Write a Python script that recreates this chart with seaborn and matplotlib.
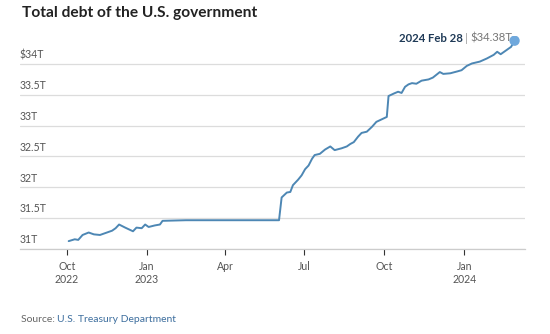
import numpy as np
import pandas as pd
import matplotlib
matplotlib.use("Agg")
import matplotlib.pyplot as plt
import matplotlib.transforms as mtransforms
import seaborn as sns

# ---------------- data ----------------
dates = [
    "2022-10-03", "2022-10-10", "2022-10-14", "2022-10-19", "2022-10-26",
    "2022-11-01", "2022-11-08", "2022-11-16", "2022-11-22", "2022-11-26",
    "2022-11-30", "2022-12-07", "2022-12-13", "2022-12-16", "2022-12-20",
    "2022-12-26", "2022-12-30", "2023-01-03", "2023-01-10", "2023-01-16",
    "2023-01-19", "2023-02-15", "2023-03-15", "2023-04-15", "2023-05-15",
    "2023-06-02", "2023-06-05", "2023-06-11", "2023-06-15", "2023-06-18",
    "2023-06-24", "2023-06-28", "2023-07-02", "2023-07-06", "2023-07-10",
    "2023-07-13", "2023-07-19", "2023-07-25", "2023-07-31", "2023-08-05",
    "2023-08-13", "2023-08-19", "2023-08-23", "2023-08-27", "2023-09-01",
    "2023-09-05", "2023-09-11", "2023-09-17", "2023-09-22", "2023-09-28",
    "2023-10-04", "2023-10-06", "2023-10-12", "2023-10-17", "2023-10-21",
    "2023-10-25", "2023-10-29", "2023-11-02", "2023-11-07", "2023-11-13",
    "2023-11-21", "2023-11-26", "2023-12-04", "2023-12-08", "2023-12-16",
    "2023-12-24", "2023-12-29", "2024-01-04", "2024-01-10", "2024-01-19",
    "2024-01-27", "2024-02-04", "2024-02-08", "2024-02-12", "2024-02-19",
    "2024-02-24", "2024-02-28",
]
debt_trillions = [
    31.12, 31.15, 31.14, 31.22, 31.26,
    31.23, 31.22, 31.26, 31.29, 31.33,
    31.39, 31.34, 31.30, 31.28, 31.34,
    31.33, 31.39, 31.35, 31.375, 31.39,
    31.45, 31.46, 31.46, 31.46, 31.46,
    31.46, 31.83, 31.91, 31.92, 32.03,
    32.12, 32.19, 32.29, 32.35, 32.46,
    32.52, 32.54, 32.61, 32.66, 32.60,
    32.63, 32.66, 32.70, 32.73, 32.82,
    32.88, 32.90, 32.98, 33.06, 33.10,
    33.14, 33.48, 33.52, 33.55, 33.53,
    33.63, 33.67, 33.69, 33.68, 33.73,
    33.75, 33.78, 33.87, 33.84, 33.85,
    33.88, 33.90, 33.97, 34.01, 34.04,
    34.09, 34.15, 34.20, 34.16, 34.23,
    34.28, 34.38,
]
ytick_values = [31, 31.5, 32, 32.5, 33, 33.5, 34]
ytick_labels = ["31T", "31.5T", "32T", "32.5T", "33T", "33.5T", "$34T"]
xtick_dates = ["2022-10-01", "2023-01-01", "2023-04-01", "2023-07-01", "2023-10-01", "2024-01-01"]
xtick_labels = ["Oct\n2022", "Jan\n2023", "Apr", "Jul", "Oct", "Jan\n2024"]
title_text = "Total debt of the U.S. government"
last_date_label = "2024 Feb 28"
last_value_label = "$34.38T"
source_prefix = "Source: "
source_name = "U.S. Treasury Department"

# ---------------- style ----------------
sns.set_theme(style="white")
plt.rcParams["font.family"] = ["Lato", "DejaVu Sans"]

W, H = 550, 334
fig = plt.figure(figsize=(W / 100, H / 100), dpi=100)
fig.patch.set_facecolor("white")

ax_left, ax_right, ax_bottom, ax_top = 20, 525, 248.5, 36.4
ax = fig.add_axes([ax_left / W, 1 - ax_bottom / H, (ax_right - ax_left) / W, (ax_bottom - ax_top) / H])

df = pd.DataFrame({"date": pd.to_datetime(dates), "debt": debt_trillions})
sns.lineplot(data=df, x="date", y="debt", ax=ax, color="#4d87b4", linewidth=1.4, zorder=4)
last = df.iloc[[-1]]
sns.scatterplot(data=last, x="date", y="debt", ax=ax, s=55, color="#6fa8dc",
                edgecolor="none", zorder=5, legend=False)

ax.set_xlim(pd.Timestamp("2022-08-08"), pd.Timestamp("2024-03-11"))
ax.set_ylim(31.0, 34.45)

ax.set_yticks(ytick_values)
ax.yaxis.grid(True, color="#dcdcdc", linewidth=0.9)
ax.xaxis.grid(False)
ax.tick_params(axis="y", length=0, labelleft=False)
ax.set_axisbelow(True)

ax.set_xticks(pd.to_datetime(xtick_dates))
ax.set_xticklabels(xtick_labels, fontsize=7.6, color="#555555", linespacing=1.25)
ax.tick_params(axis="x", length=4, width=0.8, color="#333333", direction="out", pad=5, bottom=True)

for s in ["left", "right", "top"]:
    ax.spines[s].set_visible(False)
ax.spines["bottom"].set_color("#cccccc")
ax.spines["bottom"].set_linewidth(0.9)
ax.set_xlabel("")
ax.set_ylabel("")

trans = mtransforms.blended_transform_factory(ax.transAxes, ax.transData)
for v, lab in zip(ytick_values, ytick_labels):
    ax.annotate(lab, xy=(0, v), xycoords=trans, xytext=(0, 2.5), textcoords="offset points",
                ha="left", va="bottom", fontsize=7.6, color="#555555")

# title
fig.text(22 / W, 1 - 13 / H, title_text, ha="left", va="center",
         fontsize=11.2, fontweight="bold", color="#222222")

# source
fig.canvas.draw()
renderer = fig.canvas.get_renderer()
t1 = fig.text(21 / W, 1 - 319 / H, source_prefix, ha="left", va="center", fontsize=7.5, color="#666666")
bb = t1.get_window_extent(renderer)
fig.text(bb.x1 / W, 1 - 319 / H, source_name, ha="left", va="center", fontsize=7.5, color="#3d6e9e")

# end annotation (right-aligned near the end dot)
ann_y = 1 - 38 / H
x_right = 512
t_val = fig.text(x_right / W, ann_y, last_value_label, ha="right", va="center", fontsize=8.2, color="#777777")
bv = t_val.get_window_extent(renderer)
t_bar = fig.text((bv.x0 - 2) / W, ann_y, "|", ha="right", va="center", fontsize=8.2, color="#999999")
bbar = t_bar.get_window_extent(renderer)
fig.text((bbar.x0 - 2) / W, ann_y, last_date_label, ha="right", va="center", fontsize=8.2,
         fontweight="bold", color="#1f3a57")

fig.savefig("out.png", dpi=100, facecolor="white")
